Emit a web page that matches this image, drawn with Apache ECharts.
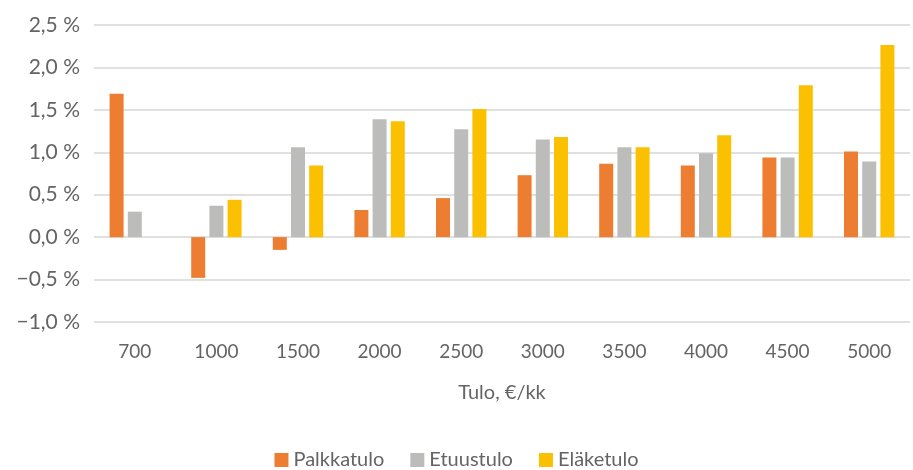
<!DOCTYPE html>
<html>
<head>
<meta charset="utf-8">
<script src="https://cdn.jsdelivr.net/npm/echarts@6/dist/echarts.min.js"></script>
<style>
  html, body { margin: 0; padding: 0; background: #fff; }
  #chart { width: 913px; height: 470px; }
</style>
</head>
<body>
<div id="chart"></div>
<script>
// Tulo, €/kk
const categories = ['700', '1000', '1500', '2000', '2500', '3000', '3500', '4000', '4500', '5000'];

// muutos, %
const palkkatulo = [1.69, -0.48, -0.15, 0.32, 0.46, 0.73, 0.865, 0.845, 0.94, 1.01];
const etuustulo = [0.30, 0.37, 1.06, 1.39, 1.27, 1.15, 1.06, 0.99, 0.94, 0.89];
const elaketulo = [null, 0.44, 0.845, 1.365, 1.51, 1.18, 1.06, 1.20, 1.79, 2.265];

const seriesNames = ['Palkkatulo', 'Etuustulo', 'Eläketulo'];
const colors = ['#ED7D31', '#BCBCBA', '#FBC000'];

const font = 'Lato, "Open Sans", sans-serif';
const textColor = '#646464';

function fmtPct(v) {
    const s = Math.abs(v).toFixed(1).replace('.', ',') + ' %';
    return v < 0 ? '\u2212' + s : s;
}

const chart = echarts.init(document.getElementById('chart'));

const barSeries = [palkkatulo, etuustulo, elaketulo].map((data, i) => ({
    name: seriesNames[i],
    type: 'bar',
    data: data,
    barWidth: 14,
    barGap: '30%',
    itemStyle: { color: colors[i] }
}));

chart.setOption({
    animation: false,
    textStyle: { fontFamily: font },
    grid: {
        left: 94,
        right: 3,
        top: 25,
        bottom: 148
    },
    xAxis: {
        type: 'category',
        data: categories,
        name: 'Tulo, €/kk',
        nameLocation: 'middle',
        nameGap: 61,
        nameTextStyle: { color: textColor, fontSize: 20, fontFamily: font },
        axisLine: { show: false },
        axisTick: { show: false },
        axisLabel: { color: textColor, fontSize: 19, margin: 20, fontFamily: font }
    },
    yAxis: {
        type: 'value',
        min: -1.0,
        max: 2.5,
        interval: 0.5,
        axisLine: { show: false },
        axisTick: { show: false },
        axisLabel: {
            color: textColor,
            fontSize: 21,
            margin: 14,
            fontFamily: font,
            formatter: fmtPct
        },
        splitLine: { lineStyle: { color: '#E0E0E0', width: 2 } }
    },
    legend: {
        data: seriesNames,
        bottom: 0,
        left: 'center',
        padding: [0, 5, 0, 5],
        itemWidth: 14,
        itemHeight: 14,
        itemGap: 26,
        icon: 'rect',
        textStyle: { color: textColor, fontSize: 20, fontFamily: font }
    },
    series: barSeries
});
</script>
</body>
</html>
